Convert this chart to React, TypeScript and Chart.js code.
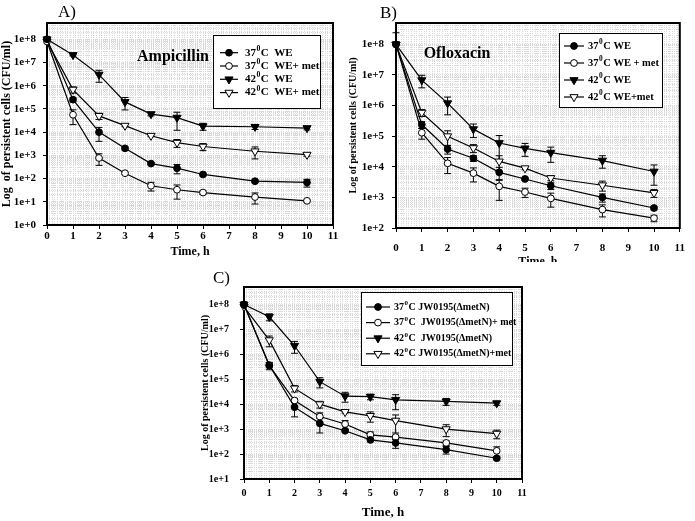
import React, { useEffect, useRef } from 'react';
import { Chart, registerables } from 'chart.js';

Chart.register(...registerables);

// ---------------- data ----------------
const TIME_H = [0, 1, 2, 3, 4, 5, 6, 8, 10];
const X_TICKS = [0, 1, 2, 3, 4, 5, 6, 7, 8, 9, 10, 11];
const X_LABELS = ['0', '1', '2', '3', '4', '5', '6', '7', '8', '9', '10', '11'];

// A) Ampicillin
const AMP_37 = [1e8, 2.5e5, 1e4, 2e3, 440, 280, 150, 77, 68];
const AMP_37_SD = [0, 5e4, 6e3, 300, 50, 120, 20, 10, 25];
const AMP_37_MET = [8e7, 5.6e4, 770, 170, 49, 33, 25, 16, 11];
const AMP_37_MET_SD = [0, 3.5e4, 400, 20, 20, 20, 4, 8, 1];
const AMP_42 = [1e8, 2.1e7, 3e6, 2e5, 6e4, 4.2e4, 1.8e4, 1.7e4, 1.5e4];
const AMP_42_SD = [0, 2e6, 1.6e6, 1.1e5, 1e4, 3e4, 6e3, 4e3, 2.5e3];
const AMP_42_MET = [8e7, 6.8e5, 5e4, 1.9e4, 7e3, 3.5e3, 2.4e3, 1.5e3, 1070];
const AMP_42_MET_SD = [0, 2e5, 1.5e4, 2e3, 600, 1.3e3, 800, 800, 150];
const AMP_TEMPS = ['37', '37', '42', '42'];
const AMP_NAMES = ['C  WE', 'C  WE+ met', 'C  WE', 'C  WE+ met'];
const AMP_Y_TICKS = [1e0, 1e1, 1e2, 1e3, 1e4, 1e5, 1e6, 1e7, 1e8];
const AMP_Y_LABELS = ['1e+0', '1e+1', '1e+2', '1e+3', '1e+4', '1e+5', '1e+6', '1e+7', '1e+8'];

// B) Ofloxacin
const OFL_37 = [1e8, 2.4e5, 3.8e4, 1.9e4, 6.6e3, 4e3, 2.4e3, 1e3, 450];
const OFL_37_SD = [0, 6e4, 1.2e4, 4e3, 3e3, 400, 600, 300, 60];
const OFL_37_MET = [1e8, 1.3e5, 1.3e4, 6.2e3, 2.3e3, 1.5e3, 930, 400, 210];
const OFL_37_MET_SD = [0, 5e4, 7e3, 3e3, 1.5e3, 500, 450, 170, 50];
const OFL_42 = [1e8, 6.8e6, 1.2e6, 1.7e5, 6e4, 4e4, 2.9e4, 1.6e4, 7e3];
const OFL_42_SD = [1.4e8, 3e6, 7e5, 8e4, 4.5e4, 1.8e4, 1.5e4, 7e3, 4.5e3];
const OFL_42_MET = [1e8, 5.9e5, 1e5, 4.1e4, 1.5e4, 9e3, 4.3e3, 2.5e3, 1.4e3];
const OFL_42_MET_SD = [0, 1.5e5, 5e4, 1.2e4, 8e3, 1e3, 800, 900, 400];
const OFL_TEMPS = ['37', '37', '42', '42'];
const OFL_NAMES = ['C WE', 'C WE + met', 'C WE', 'C WE+met'];
const OFL_Y_TICKS = [1e2, 1e3, 1e4, 1e5, 1e6, 1e7, 1e8];
const OFL_Y_LABELS = ['1e+2', '1e+3', '1e+4', '1e+5', '1e+6', '1e+7', '1e+8'];

// C) JW0195 (ΔmetN)
const JW_37 = [1e8, 3.7e5, 7.6e3, 1.7e3, 860, 370, 280, 150, 68];
const JW_37_SD = [0, 8e4, 4.5e3, 1e3, 100, 60, 110, 50, 10];
const JW_37_MET = [1e8, 3.5e5, 1.4e4, 3.2e3, 1.6e3, 590, 480, 280, 135];
const JW_37_MET_SD = [0, 1.1e5, 2e3, 1.3e3, 600, 180, 80, 60, 60];
const JW_42 = [1e8, 3.2e7, 2.2e6, 8e4, 2.1e4, 2e4, 1.5e4, 1.3e4, 1.1e4];
const JW_42_SD = [0, 1e7, 1.1e6, 3.5e4, 9e3, 5e3, 9e3, 4e3, 2e3];
const JW_42_MET = [8e7, 3.7e6, 4.3e4, 1e4, 4.9e3, 3.4e3, 2.2e3, 1e3, 660];
const JW_42_MET_SD = [0, 1.7e6, 1.2e4, 3e3, 500, 1.5e3, 1.5e3, 500, 250];
const JW_TEMPS = ['37', '37', '42', '42'];
const JW_NAMES = ['C JW0195(ΔmetN)', 'C  JW0195(ΔmetN)+ met', 'C  JW0195(ΔmetN)', 'C JW0195(ΔmetN)+met'];
const JW_Y_TICKS = [1e1, 1e2, 1e3, 1e4, 1e5, 1e6, 1e7, 1e8];
const JW_Y_LABELS = ['1e+1', '1e+2', '1e+3', '1e+4', '1e+5', '1e+6', '1e+7', '1e+8'];

// ---------------- styling ----------------
const SERIF = "'Liberation Serif', 'Times New Roman', serif";
const MARKERS = [
  { style: 'circle', filled: true },
  { style: 'circle', filled: false },
  { style: 'triangle', filled: true },
  { style: 'triangle', filled: false },
];
const GRID_COLOR = '#d9d9d9';

type Series = { temp: string; name: string; values: number[]; sd: number[] };
type LegendSpec = {
  x: number; y: number; w: number; h: number; row0: number; rowH: number;
  lineX: number; lineLen: number; textX: number; font: number;
};
type PanelSpec = {
  left: number; top: number; w: number; h: number;
  series: Series[];
  yMin: number; yMax: number; yTicks: number[]; yLabels: string[];
  padTop: number; padRight: number; yAxisW: number; xAxisH: number;
  tickFont: number; yTickPad: number; xTickPad: number;
  yTitle: string; yTitleFont: number; yTitlePad: number;
  xTitleFont: number; xTitlePad: number;
  legend: LegendSpec;
  title?: { text: string; x: number; y: number; font: number };
};

function mkSeries(temps: string[], names: string[], vals: number[][], sds: number[][]): Series[] {
  return temps.map((t, i) => ({ temp: t, name: names[i], values: vals[i], sd: sds[i] }));
}

function drawMarker(ctx: CanvasRenderingContext2D, x: number, y: number, idx: number) {
  const m = MARKERS[idx];
  ctx.beginPath();
  if (m.style === 'circle') {
    ctx.arc(x, y, 3.4, 0, Math.PI * 2);
  } else {
    const r = 4.7;
    let rad = Math.PI;
    ctx.moveTo(x + Math.sin(rad) * r, y - Math.cos(rad) * r);
    rad += (2 * Math.PI) / 3;
    ctx.lineTo(x + Math.sin(rad) * r, y - Math.cos(rad) * r);
    rad += (2 * Math.PI) / 3;
    ctx.lineTo(x + Math.sin(rad) * r, y - Math.cos(rad) * r);
    ctx.closePath();
  }
  ctx.fillStyle = m.filled ? '#000' : '#fff';
  ctx.fill();
  ctx.strokeStyle = '#000';
  ctx.lineWidth = 1;
  ctx.stroke();
}

function minorTicks(min: number, max: number) {
  const out: { value: number }[] = [];
  for (let e = Math.floor(Math.log10(min)); e <= Math.ceil(Math.log10(max)); e++) {
    for (let m = 1; m <= 9; m++) {
      const v = m * Math.pow(10, e);
      if (v >= min && v <= max) out.push({ value: v });
    }
  }
  return out;
}

function buildConfig(p: PanelSpec): any {
  const datasets = p.series.map((s, i) => {
    const m = MARKERS[i];
    return {
      label: s.temp + '°' + s.name,
      data: TIME_H.map((x, k) => ({ x, y: s.values[k] })),
      sd: s.sd,
      borderColor: '#000',
      borderWidth: 1.2,
      backgroundColor: '#000',
      pointStyle: m.style,
      pointRotation: m.style === 'triangle' ? 180 : 0,
      pointRadius: m.style === 'triangle' ? 4.7 : 3.4,
      pointBackgroundColor: m.filled ? '#000' : '#fff',
      pointBorderColor: '#000',
      pointBorderWidth: 1,
      fill: false,
      tension: 0,
      clip: false,
      xAxisID: 'x',
      yAxisID: 'y',
    };
  });

  const framePlugin = {
    id: 'frame',
    beforeDatasetsDraw(chart: any) {
      const { ctx, chartArea: a } = chart;
      ctx.save();
      ctx.strokeStyle = '#000';
      ctx.lineWidth = 2;
      ctx.strokeRect(a.left, a.top, a.right - a.left, a.bottom - a.top);
      ctx.restore();
    },
  };

  const errorPlugin = {
    id: 'errbars',
    beforeDatasetsDraw(chart: any) {
      const { ctx, chartArea: a } = chart;
      const xs = chart.scales.x;
      const ys = chart.scales.y;
      ctx.save();
      ctx.strokeStyle = '#000';
      ctx.lineWidth = 1;
      chart.data.datasets.forEach((ds: any) => {
        ds.data.forEach((pt: any, k: number) => {
          const sd = ds.sd[k];
          if (!sd) return;
          const px = xs.getPixelForValue(pt.x);
          const hiV = pt.y + sd;
          const loV = pt.y - sd;
          const hi = Math.max(ys.getPixelForValue(hiV), a.top - 30);
          const lo = loV > ys.min ? ys.getPixelForValue(loV) : a.bottom;
          ctx.beginPath();
          ctx.moveTo(px, hi);
          ctx.lineTo(px, lo);
          ctx.moveTo(px - 3.5, hi);
          ctx.lineTo(px + 3.5, hi);
          if (loV > ys.min) {
            ctx.moveTo(px - 3.5, lo);
            ctx.lineTo(px + 3.5, lo);
          }
          ctx.stroke();
        });
      });
      ctx.restore();
    },
  };

  const legendPlugin = {
    id: 'boxLegend',
    afterDraw(chart: any) {
      const ctx: CanvasRenderingContext2D = chart.ctx;
      const L = p.legend;
      ctx.save();
      ctx.fillStyle = '#fff';
      ctx.fillRect(L.x, L.y, L.w, L.h);
      ctx.strokeStyle = '#000';
      ctx.lineWidth = 1;
      ctx.strokeRect(L.x + 0.5, L.y + 0.5, L.w, L.h);
      p.series.forEach((s, i) => {
        const y = L.y + L.row0 + i * L.rowH;
        ctx.beginPath();
        ctx.strokeStyle = '#000';
        ctx.lineWidth = 1.2;
        ctx.moveTo(L.lineX, y);
        ctx.lineTo(L.lineX + L.lineLen, y);
        ctx.stroke();
        drawMarker(ctx, L.lineX + L.lineLen / 2, y, i);
        ctx.fillStyle = '#000';
        ctx.textBaseline = 'middle';
        ctx.textAlign = 'left';
        ctx.font = `bold ${L.font}px ${SERIF}`;
        let tx = L.textX;
        ctx.fillText(s.temp, tx, y);
        tx += ctx.measureText(s.temp).width;
        ctx.font = `bold ${L.font * 0.7}px ${SERIF}`;
        ctx.fillText('0', tx + 0.5, y - L.font * 0.35);
        tx += ctx.measureText('0').width + 1;
        ctx.font = `bold ${L.font}px ${SERIF}`;
        ctx.fillText(s.name, tx, y);
      });
      if (p.title) {
        ctx.font = `bold ${p.title.font}px ${SERIF}`;
        ctx.textAlign = 'center';
        ctx.textBaseline = 'middle';
        ctx.fillStyle = '#000';
        ctx.fillText(p.title.text, p.title.x, p.title.y);
      }
      ctx.restore();
    },
  };

  const tickFont = { family: SERIF, size: p.tickFont, weight: 'bold' as const };

  return {
    type: 'line',
    data: { datasets },
    plugins: [framePlugin, errorPlugin, legendPlugin],
    options: {
      animation: false,
      responsive: false,
      events: [],
      layout: { padding: { top: p.padTop, right: p.padRight, left: 0, bottom: 0 } },
      plugins: { legend: { display: false }, tooltip: { enabled: false } },
      scales: {
        xg: {
          type: 'linear', position: 'bottom', min: 0, max: 11,
          afterBuildTicks: (s: any) => {
            const t: { value: number }[] = [];
            for (let k = 0; k <= 110; k++) t.push({ value: k / 10 });
            s.ticks = t;
          },
          afterFit: (s: any) => { s.height = 0; },
          ticks: { display: false },
          grid: { color: GRID_COLOR, drawTicks: false, lineWidth: 1 },
          border: { display: false, dash: [1, 1] },
        },
        yg: {
          type: 'logarithmic', position: 'left', min: p.yMin, max: p.yMax,
          afterBuildTicks: (s: any) => { s.ticks = minorTicks(p.yMin, p.yMax); },
          afterFit: (s: any) => { s.width = 0; },
          ticks: { display: false },
          grid: { color: GRID_COLOR, drawTicks: false, lineWidth: 1 },
          border: { display: false, dash: [1, 1] },
        },
        x: {
          type: 'linear', position: 'bottom', min: 0, max: 11,
          afterBuildTicks: (s: any) => { s.ticks = X_TICKS.map((v) => ({ value: v })); },
          afterFit: (s: any) => { s.height = p.xAxisH; },
          ticks: {
            autoSkip: false, maxRotation: 0, minRotation: 0, padding: p.xTickPad, color: '#000', font: tickFont,
            callback: (_v: any, i: number) => X_LABELS[i],
          },
          grid: { drawOnChartArea: false, drawTicks: true, tickLength: 4, color: '#000' },
          border: { display: false },
          title: {
            display: true, text: 'Time, h', color: '#000',
            font: { family: SERIF, size: p.xTitleFont, weight: 'bold' },
            padding: { top: 0, bottom: p.xTitlePad },
          },
        },
        y: {
          type: 'logarithmic', position: 'left', min: p.yMin, max: p.yMax,
          afterBuildTicks: (s: any) => { s.ticks = p.yTicks.map((v) => ({ value: v })); },
          afterFit: (s: any) => { s.width = p.yAxisW; },
          ticks: {
            autoSkip: false, padding: p.yTickPad, color: '#000', font: tickFont,
            callback: (_v: any, i: number) => p.yLabels[i],
          },
          grid: { drawOnChartArea: false, drawTicks: true, tickLength: 4, color: '#000' },
          border: { display: false },
          title: {
            display: true, text: p.yTitle, color: '#000',
            font: { family: SERIF, size: p.yTitleFont, weight: 'bold' },
            padding: { top: p.yTitlePad, bottom: 0 },
          },
        },
      },
    },
  };
}

const PANEL_A: PanelSpec = {
  left: 0, top: 0, w: 345, h: 262,
  series: mkSeries(AMP_TEMPS, AMP_NAMES, [AMP_37, AMP_37_MET, AMP_42, AMP_42_MET], [AMP_37_SD, AMP_37_MET_SD, AMP_42_SD, AMP_42_MET_SD]),
  yMin: 1, yMax: 5e8, yTicks: AMP_Y_TICKS, yLabels: AMP_Y_LABELS,
  padTop: 23, padRight: 12, yAxisW: 47, xAxisH: 37,
  tickFont: 11, yTickPad: 7, xTickPad: 1,
  yTitle: 'Log  of persistent cells (CFU/ml)', yTitleFont: 12, yTitlePad: 0,
  xTitleFont: 12, xTitlePad: 3,
  legend: { x: 213, y: 35, w: 107, h: 73, row0: 17.7, rowH: 13.3, lineX: 220, lineLen: 18, textX: 245, font: 11 },
  title: { text: 'Ampicillin', x: 173, y: 57, font: 16 },
};

const PANEL_B: PanelSpec = {
  left: 345, top: 0, w: 350, h: 262,
  series: mkSeries(OFL_TEMPS, OFL_NAMES, [OFL_37, OFL_37_MET, OFL_42, OFL_42_MET], [OFL_37_SD, OFL_37_MET_SD, OFL_42_SD, OFL_42_MET_SD]),
  yMin: 100, yMax: 5e8, yTicks: OFL_Y_TICKS, yLabels: OFL_Y_LABELS,
  padTop: 23, padRight: 7, yAxisW: 51, xAxisH: 34,
  tickFont: 11, yTickPad: 8, xTickPad: 10,
  yTitle: 'Log of persistent cells (CFU/ml)', yTitleFont: 10, yTitlePad: 2,
  xTitleFont: 12, xTitlePad: -7,
  legend: { x: 214, y: 33, w: 103, h: 74, row0: 13, rowH: 17, lineX: 219, lineLen: 20, textX: 243, font: 10.5 },
  title: { text: 'Ofloxacin', x: 112, y: 54, font: 16 },
};

const PANEL_C: PanelSpec = {
  left: 195, top: 262, w: 340, h: 259,
  series: mkSeries(JW_TEMPS, JW_NAMES, [JW_37, JW_37_MET, JW_42, JW_42_MET], [JW_37_SD, JW_37_MET_SD, JW_42_SD, JW_42_MET_SD]),
  yMin: 10, yMax: 5e8, yTicks: JW_Y_TICKS, yLabels: JW_Y_LABELS,
  padTop: 25, padRight: 13, yAxisW: 49, xAxisH: 42,
  tickFont: 10, yTickPad: 11, xTickPad: 4.5,
  yTitle: 'Log of persistent cells (CFU/ml)', yTitleFont: 10, yTitlePad: 4,
  xTitleFont: 13, xTitlePad: 1,
  legend: { x: 166, y: 30, w: 151, h: 73, row0: 15, rowH: 15.6, lineX: 171, lineLen: 24, textX: 199, font: 10 },
};

function PanelChart({ spec }: { spec: PanelSpec }) {
  const ref = useRef<HTMLCanvasElement>(null);
  useEffect(() => {
    const chart = new Chart(ref.current as HTMLCanvasElement, buildConfig(spec));
    return () => chart.destroy();
  }, [spec]);
  return (
    <canvas
      ref={ref}
      width={spec.w}
      height={spec.h}
      style={{ position: 'absolute', left: spec.left, top: spec.top, width: spec.w, height: spec.h }}
    />
  );
}

const labelStyle = (left: number, top: number): React.CSSProperties => ({
  position: 'absolute', left, top, fontFamily: SERIF, fontSize: 17, lineHeight: '17px', color: '#000',
});

export default function App() {
  return (
    <div style={{ position: 'absolute', left: 0, top: 0, width: 695, height: 521, background: '#fff', overflow: 'hidden' }}>
      <PanelChart spec={PANEL_A} />
      <PanelChart spec={PANEL_B} />
      <PanelChart spec={PANEL_C} />
      <div style={labelStyle(58, 3)}>A)</div>
      <div style={labelStyle(380, 4)}>B)</div>
      <div style={labelStyle(213, 269)}>C)</div>
    </div>
  );
}
